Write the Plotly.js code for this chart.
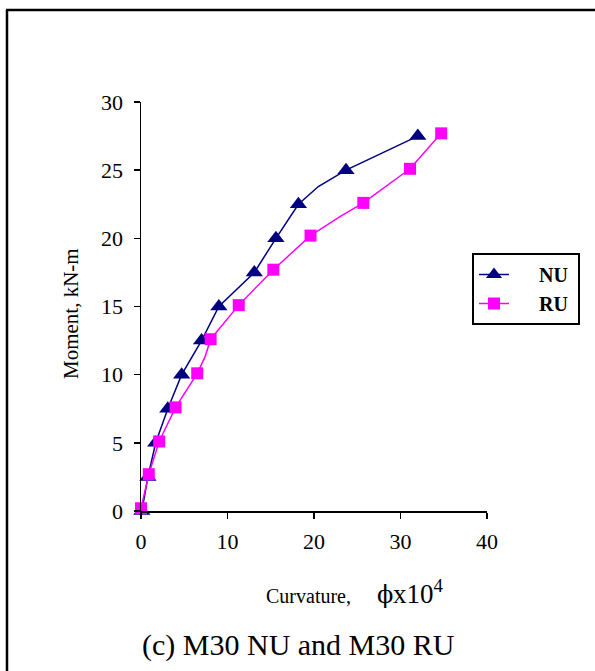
<!DOCTYPE html>
<html>
<head>
<meta charset="utf-8">
<script src="https://cdn.plot.ly/plotly-3.0.1.min.js"></script>
<style>html,body{margin:0;padding:0;background:#fff;}#chart{width:595px;height:671px;}</style>
</head>
<body>
<div id="chart"></div>
<script>
// Curvature (phi x 10^4) and Moment (kN-m)
const nuCurvature = [0.1, 0.8, 1.7, 3.1, 4.7, 7.0, 9.0, 13.1, 15.6, 18.2, 20.5, 23.7, 32.0];
const nuMoment    = [0.0, 2.5, 5.0, 7.5, 10.0, 12.5, 15.0, 17.5, 20.0, 22.5, 23.8, 25.0, 27.5];
const nuHasMarker = [1, 1, 1, 1, 1, 1, 1, 1, 1, 1, 0, 1, 1];

const ruCurvature = [0.0, 0.9, 2.1, 4.0, 6.5, 7.4, 8.05, 11.3, 15.3, 19.6, 23.0, 25.7, 31.1, 34.7];
const ruMoment    = [0.2, 2.7, 5.1, 7.6, 10.1, 11.3, 12.6, 15.1, 17.7, 20.2, 21.6, 22.6, 25.1, 27.7];
const ruHasMarker = [1, 1, 1, 1, 1, 0, 1, 1, 1, 1, 0, 1, 1, 1];

const seriesNames = ['NU', 'RU'];
const xTicks = [0, 10, 20, 30, 40];
const yTicks = [0, 5, 10, 15, 20, 25, 30];

const W = 595, H = 671;
const L = 141, R = 108, T = 102, B = 160;
const pw = W - L - R, ph = H - T - B;
const fx = px => (px - L) / pw;
const fy = py => (H - B - py) / ph;

const serif = 'Liberation Serif, Times New Roman, serif';
const pick = (arr, mask) => arr.filter((_, i) => mask[i]);

const styles = [
  {color: '#000080', symbol: 'triangle-up', size: 15},
  {color: '#FF00FF', symbol: 'square', size: 12}
];
const series = [
  {x: nuCurvature, y: nuMoment, m: nuHasMarker},
  {x: ruCurvature, y: ruMoment, m: ruHasMarker}
];

const traces = [];
series.forEach((s, i) => {
  const st = styles[i];
  traces.push({
    x: s.x, y: s.y, type: 'scatter', mode: 'lines', showlegend: false,
    line: {color: st.color, width: 1.5}, cliponaxis: false, hoverinfo: 'skip'
  });
  traces.push({
    x: pick(s.x, s.m), y: pick(s.y, s.m), type: 'scatter', mode: 'markers', showlegend: false,
    marker: {symbol: st.symbol, color: st.color, size: st.size, line: {width: 0}}, cliponaxis: false
  });
});
// legend entries
series.forEach((s, i) => {
  const st = styles[i];
  traces.push({
    x: [null], y: [null], type: 'scatter', mode: 'lines+markers',
    name: '&nbsp;&nbsp;&nbsp;&nbsp;&nbsp;' + seriesNames[i] + '&nbsp;',
    line: {color: st.color, width: 1.5},
    marker: {symbol: st.symbol, color: st.color, size: i === 0 ? 14 : 12}
  });
});

const layout = {
  width: W, height: H,
  margin: {l: L, r: R, t: T, b: B, pad: 0},
  paper_bgcolor: '#fff', plot_bgcolor: '#fff',
  font: {family: serif, color: '#000', size: 20},
  showlegend: true,
  legend: {
    x: fx(472), y: fy(253), xanchor: 'left', yanchor: 'top',
    bordercolor: '#000', borderwidth: 2, bgcolor: '#fff',
    font: {family: serif, size: 20, color: '#000', weight: 'bold'},
    tracegroupgap: 0
  },
  xaxis: {
    range: [0, 40], tickvals: xTicks, ticktext: xTicks.map(String),
    showgrid: false, zeroline: false, showline: true, linecolor: '#000', linewidth: 1.5,
    ticks: 'outside', ticklen: 6, tickwidth: 1.5, tickcolor: '#000',
    tickfont: {family: serif, size: 22, color: '#000'}, ticklabelstandoff: 4
  },
  yaxis: {
    range: [0, 30], tickvals: yTicks, ticktext: yTicks.map(String),
    showgrid: false, zeroline: false, showline: true, linecolor: '#000', linewidth: 1.5,
    ticks: 'outside', ticklen: 6, tickwidth: 1.5, tickcolor: '#000',
    tickfont: {family: serif, size: 22, color: '#000'}, ticklabelstandoff: 6
  },
  annotations: [
    {
      xref: 'paper', yref: 'paper', x: fx(71), y: fy(314), xanchor: 'center', yanchor: 'middle',
      text: 'Moment, kN-m', textangle: -90, showarrow: false,
      font: {family: serif, size: 21, color: '#000'}
    },
    {
      xref: 'paper', yref: 'paper', x: fx(264), y: fy(596), xanchor: 'left', yanchor: 'middle',
      text: 'Curvature,', showarrow: false, font: {family: serif, size: 20, color: '#000'}
    },
    {
      xref: 'paper', yref: 'paper', x: fx(375), y: fy(595), xanchor: 'left', yanchor: 'middle',
      text: 'ϕ', showarrow: false, font: {family: 'DejaVu Serif, serif', size: 24, color: '#000'}
    },
    {
      xref: 'paper', yref: 'paper', x: fx(391), y: fy(592), xanchor: 'left', yanchor: 'middle',
      text: 'x10<sup>4</sup>', showarrow: false, font: {family: serif, size: 27, color: '#000'}
    },
    {
      xref: 'paper', yref: 'paper', x: fx(298), y: fy(645), xanchor: 'center', yanchor: 'middle',
      text: '(c) M30 NU and M30 RU', showarrow: false,
      font: {family: serif, size: 30, color: '#000'}
    }
  ],
  shapes: [
    {type: 'line', xref: 'paper', yref: 'paper', x0: fx(7), x1: fx(7), y0: fy(10), y1: fy(680),
     line: {color: '#000', width: 2.5}},
    {type: 'line', xref: 'paper', yref: 'paper', x0: fx(6), x1: fx(600), y0: fy(10), y1: fy(10),
     line: {color: '#000', width: 2.5}}
  ]
};

Plotly.newPlot('chart', traces, layout, {displayModeBar: false, staticPlot: true});
</script>
</body>
</html>
